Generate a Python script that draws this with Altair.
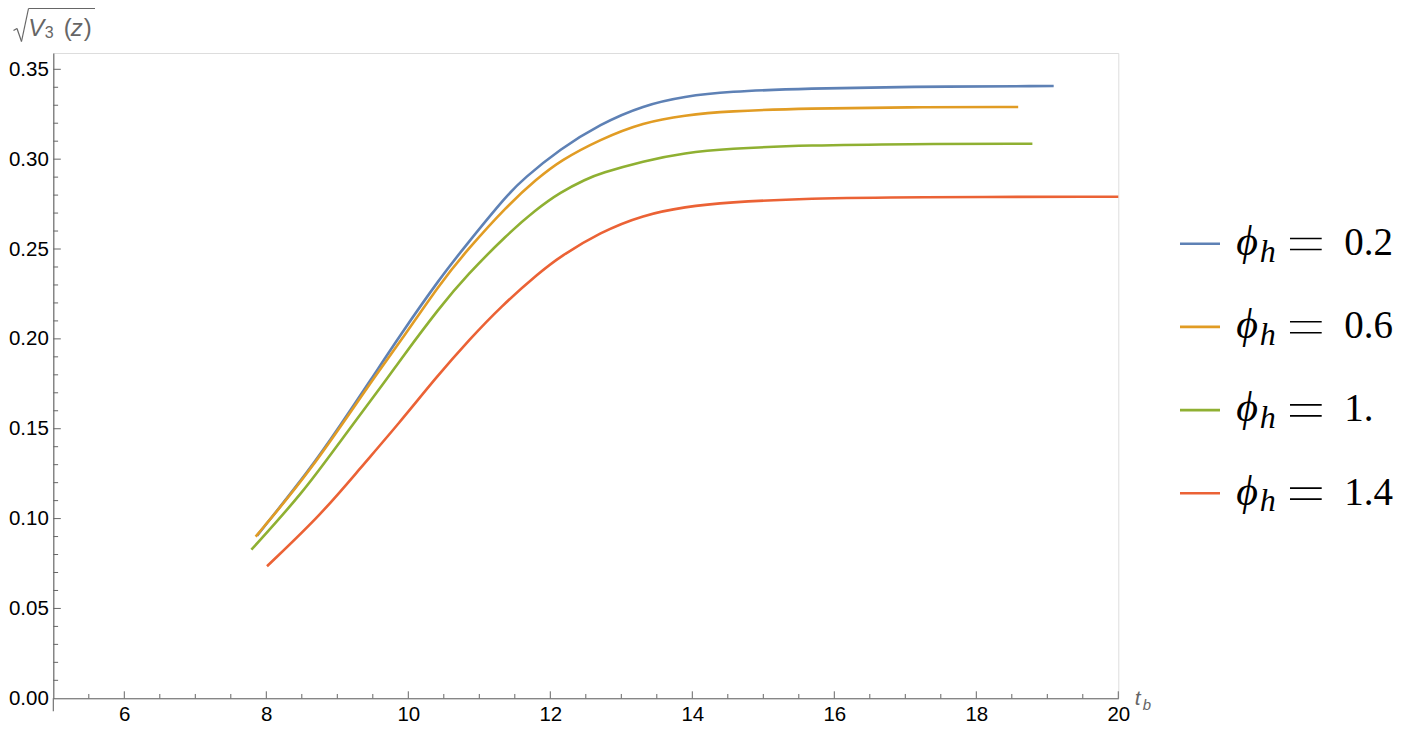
import altair as alt
import pandas as pd

# ---------------- data ----------------
SERIES = ["phi_h = 0.2", "phi_h = 0.6", "phi_h = 1.", "phi_h = 1.4"]
LEGEND_VALUES = ["0.2", "0.6", "1.", "1.4"]
COLORS = ["#5E81B5", "#E19C24", "#8FB032", "#EB6235"]

T_02 = [7.87, 8.62, 9.04, 9.48, 9.88, 10.45, 10.82, 11.39, 11.62, 12.14, 12.70, 13.31, 13.90, 14.48, 15.66, 17.00, 19.09]
V_02 = [0.0905, 0.1276, 0.1517, 0.1777, 0.2018, 0.2340, 0.2525, 0.2800, 0.2890, 0.3057, 0.3195, 0.3300, 0.3350, 0.3376, 0.3394, 0.3403, 0.3407]

T_06 = [7.85, 8.62, 9.48, 9.88, 10.45, 10.82, 11.39, 11.81, 12.14, 12.70, 13.31, 13.90, 14.48, 15.66, 17.00, 18.59]
V_06 = [0.0900, 0.1262, 0.1765, 0.1980, 0.2310, 0.2490, 0.2740, 0.2890, 0.2992, 0.3110, 0.3205, 0.3245, 0.3267, 0.3283, 0.3289, 0.3290]

T_10 = [7.79, 8.52, 9.04, 9.70, 9.88, 10.45, 10.82, 11.39, 11.80, 12.14, 12.51, 12.70, 13.31, 13.90, 14.48, 15.66, 17.00, 18.79]
V_10 = [0.0827, 0.1146, 0.1430, 0.1777, 0.1879, 0.2180, 0.2352, 0.2580, 0.2720, 0.2816, 0.2890, 0.2920, 0.2990, 0.3035, 0.3058, 0.3078, 0.3084, 0.3086]

T_14 = [8.01, 8.78, 9.30, 9.88, 10.40, 10.87, 11.29, 11.85, 12.14, 12.70, 13.31, 13.90, 14.48, 15.66, 17.00, 20.00]
V_14 = [0.0735, 0.1026, 0.1270, 0.1535, 0.1790, 0.2000, 0.2175, 0.2370, 0.2458, 0.2593, 0.2690, 0.2735, 0.2760, 0.2782, 0.2789, 0.2791]

X_MAJOR = [6, 8, 10, 12, 14, 16, 18, 20]
X_MINOR = [5.5, 6.5, 7, 7.5, 8.5, 9, 9.5, 10.5, 11, 11.5, 12.5, 13, 13.5,
           14.5, 15, 15.5, 16.5, 17, 17.5, 18.5, 19, 19.5]
Y_LABELS = [0.0, 0.05, 0.10, 0.15, 0.20, 0.25, 0.30, 0.35]
Y_MAJOR = [0.05, 0.10, 0.15, 0.20, 0.25, 0.30, 0.35]
Y_MINOR = [0.01, 0.02, 0.03, 0.04, 0.06, 0.07, 0.08, 0.09, 0.11, 0.12, 0.13, 0.14,
           0.16, 0.17, 0.18, 0.19, 0.21, 0.22, 0.23, 0.24, 0.26, 0.27, 0.28, 0.29,
           0.31, 0.32, 0.33, 0.34]

X_DOMAIN = [5, 20]
Y_DOMAIN = [0, 0.35907]

# ---------------- build tables ----------------
rows = []
for name, ts, vs in zip(SERIES, [T_02, T_06, T_10, T_14], [V_02, V_06, V_10, V_14]):
    for t, v in zip(ts, vs):
        rows.append({"series": name, "t": t, "v": v})
df = pd.DataFrame(rows)

one = pd.DataFrame({"k": [0]})

W, H = 1065, 645.3
AX = "#666666"
LABEL_FONT = "Liberation Sans"
LFS = 20.5

xs = alt.Scale(domain=X_DOMAIN, nice=False, zero=False)
ys = alt.Scale(domain=Y_DOMAIN, nice=False, zero=False)

lines = alt.Chart(df).mark_line(strokeWidth=2.6, interpolate="basis").encode(
    x=alt.X("t:Q", scale=xs, axis=alt.Axis(
        values=X_MAJOR, format="d", title=None, ticks=False, tickSize=0, grid=False,
        domainColor=AX, domainWidth=1.1, labelFont=LABEL_FONT, labelFontSize=LFS,
        labelColor="#000000", labelPadding=6, labelFlush=False, labelOverlap=False,
        labelBound=False)),
    y=alt.Y("v:Q", scale=ys, axis=alt.Axis(
        values=Y_LABELS, format=".2f", title=None, ticks=False, tickSize=0, grid=False,
        domainColor=AX, domainWidth=1.1, labelFont=LABEL_FONT, labelFontSize=LFS,
        labelColor="#000000", labelPadding=5, labelFlush=False, labelOverlap=False,
        labelBound=False)),
    color=alt.Color("series:N", scale=alt.Scale(domain=SERIES, range=COLORS), legend=None),
    detail="series:N",
)

# inward ticks
def xticks(vals, length):
    d = pd.DataFrame({"t": vals})
    return alt.Chart(d).mark_rule(color=AX, strokeWidth=1, y2Offset=-length).encode(
        x=alt.X("t:Q", scale=xs), y=alt.datum(0), y2=alt.datum(0))

def yticks(vals, length):
    d = pd.DataFrame({"v": vals})
    return alt.Chart(d).mark_rule(color=AX, strokeWidth=1, x2Offset=length).encode(
        y=alt.Y("v:Q", scale=ys), x=alt.datum(5), x2=alt.datum(5))

ext = alt.Chart(one).mark_rule(color=AX, strokeWidth=1.1, y2Offset=13).encode(
    x=alt.datum(5), y=alt.datum(0), y2=alt.datum(0))

def seg(x1, y1, x2, y2, color=AX, w=1.2):
    return alt.Chart(one).mark_rule(color=color, strokeWidth=w).encode(
        x=alt.value(x1), y=alt.value(y1), x2=alt.value(x2), y2=alt.value(y2))

def txt(s, x, y, size, font=LABEL_FONT, style="normal", color=AX, align="left"):
    return alt.Chart(one).mark_text(
        text=s, font=font, fontSize=size, fontStyle=style, color=color,
        align=align, baseline="alphabetic").encode(x=alt.value(x), y=alt.value(y))

# axis titles
titles = [
    txt("t", 1081.5, 652, 21, style="italic"),
    txt("b", 1089.5, 657.5, 15, style="italic"),
    # sqrt(V_3(z))
    seg(-39.8, -22.5, -36.3, -24.5),
    seg(-36.3, -24.5, -31.8, -11.5),
    seg(-31.8, -11.5, -24.8, -44.5),
    seg(-24.8, -44.5, 41.7, -44.5),
    txt("V", -25.0, -16.7, 24, style="italic"),
    txt("3", -8.5, -15.0, 16),
    txt("(", 10.5, -16.7, 24),
    txt("z", 17.5, -16.7, 24, style="italic"),
    txt(")", 30.5, -16.7, 24),
]

# custom legend
legend = []
LEG_Y0, LEG_STEP = 190.7, 83.2
SERIF = "Liberation Serif, DejaVu Serif, serif"
for i, (c, val) in enumerate(zip(COLORS, LEGEND_VALUES)):
    cy = LEG_Y0 + i * LEG_STEP
    legend += [
        seg(1126.7, cy, 1166.7, cy, color=c, w=2.6),
        txt("\u03d5", 1183.0, cy + 11.3, 42, font=SERIF, style="italic", color="#000000"),
        txt("h", 1206.5, cy + 18.0, 32, font=SERIF, style="italic", color="#000000"),
        # equals sign drawn as two thin bars
        seg(1236.7, cy - 5.2, 1268.4, cy - 5.2, color="#000000", w=1.6),
        seg(1236.7, cy + 5.8, 1268.4, cy + 5.8, color="#000000", w=1.6),
        txt(val, 1291.0, cy + 11.3, 39, font=SERIF, color="#000000"),
    ]

layers = [lines,
          xticks(X_MAJOR, 7), xticks(X_MINOR, 4.3),
          yticks(Y_MAJOR, 7.5), yticks(Y_MINOR, 4.8),
          ext] + titles + legend

chart = alt.layer(*layers).properties(
    width=W, height=H,
    padding={"left": 45.3, "top": 45, "right": 285, "bottom": 26},
    autosize=alt.AutoSizeParams(type="none"),
).configure_view(stroke=None).configure(background="white")

chart.save("out.html", embed_options={"renderer": "svg", "actions": False})
